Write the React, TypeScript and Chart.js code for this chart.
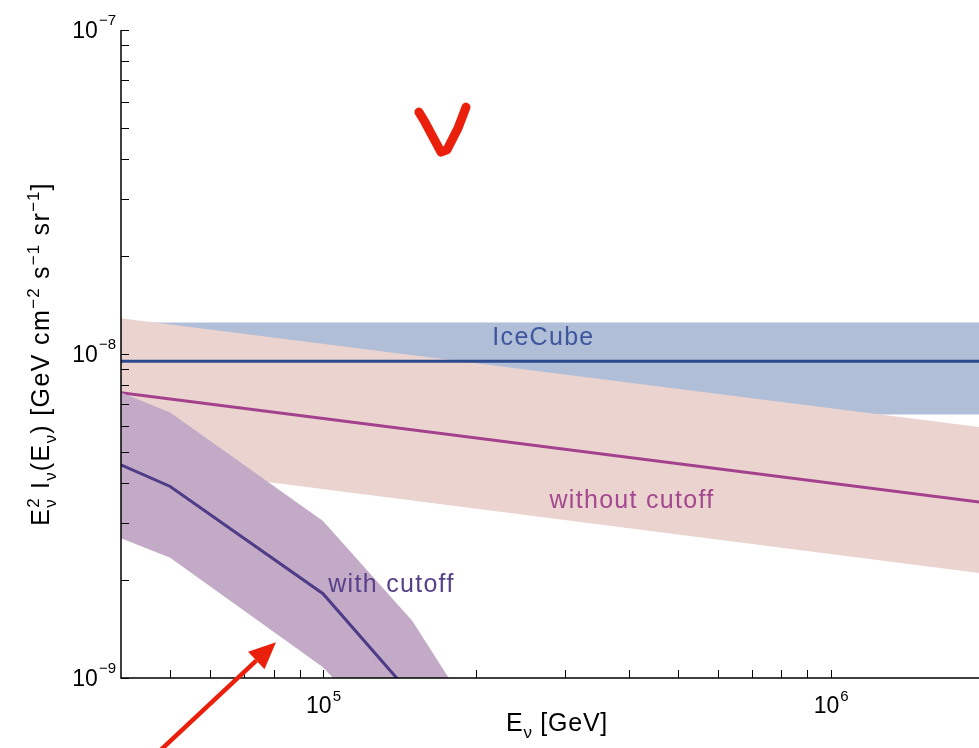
import React, { useEffect, useRef } from 'react';
import { Chart, registerables } from 'chart.js';

Chart.register(...registerables);

// ---------- axis ranges ----------
const xMin = 4e4;
const xMax = 1.96e6;
const yMin = 1e-9;
const yMax = 1e-7;

// ---------- IceCube band ----------
const iceCubeE = [4e4, 2e6];
const iceCubeFlux = [9.5e-9, 9.5e-9];
const iceCubeUpper = [1.25e-8, 1.25e-8];
const iceCubeLower = [6.5e-9, 6.5e-9];

// ---------- without cutoff ----------
const noCutE = [4e4, 2e6];
const noCutFlux = [7.6e-9, 3.48e-9];
const noCutUpper = [1.29e-8, 5.93e-9];
const noCutLower = [4.6e-9, 2.1e-9];

// ---------- with cutoff ----------
const cutE = [4e4, 5e4, 1e5, 1.5e5, 2e5];
const cutFlux = [4.55e-9, 3.9e-9, 1.82e-9, 8.8e-10, 5.2e-10];
const cutUpper = [7.6e-9, 6.6e-9, 3.05e-9, 1.5e-9, 7.4e-10];
const cutLower = [2.7e-9, 2.35e-9, 1.08e-9, 5.4e-10, 3e-10];

// ---------- ticks ----------
const xMajorTicks = [1e5, 1e6];
const xMajorExp = ['5', '6'];
const xMinorTicks = [5e4, 6e4, 7e4, 8e4, 9e4, 2e5, 3e5, 4e5, 5e5, 6e5, 7e5, 8e5, 9e5];
const yMajorTicks = [1e-9, 1e-8, 1e-7];
const yMajorExp = ['\u22129', '\u22128', '\u22127'];
const yMinorTicks = [2e-9, 3e-9, 4e-9, 5e-9, 6e-9, 7e-9, 8e-9, 9e-9, 2e-8, 3e-8, 4e-8, 5e-8, 6e-8, 7e-8, 8e-8, 9e-8];

// ---------- in-plot labels (data coordinates) ----------
const labelTexts = ['IceCube', 'without cutoff', 'with cutoff'];
const labelE = [2.71e5, 4.05e5, 1.36e5];
const labelFlux = [1.12e-8, 3.52e-9, 1.94e-9];
const labelColors = ['#3d569e', '#a4488f', '#56418a'];

// ---------- hand-drawn annotations (data coordinates) ----------
const checkE = [1.545e5, 1.588e5, 1.708e5, 1.755e5, 1.845e5, 1.913e5];
const checkFlux = [5.58e-8, 5.2e-8, 4.2e-8, 4.27e-8, 4.98e-8, 5.78e-8];
const arrowE = [4.56e4, 8.08e4];
const arrowFlux = [5.58e-10, 1.29e-9];

const FONT = '"Liberation Sans", Arial, Helvetica, sans-serif';
const BLUE_FILL = '#b1bed7';
const PINK_FILL = '#ebd3cf';
const PURPLE_FILL = '#c3aac7';
const BLUE_LINE = '#2e4a8e';
const PINK_LINE = '#a3418d';
const PURPLE_LINE = '#4f3c87';
const RED = '#ea200d';

type Seg = { t?: string; sup?: string; sub?: string };

const yTitle: Seg[] = [
  { t: 'E' }, { sup: '2', sub: '\u03bd' }, { t: ' I' }, { sub: '\u03bd' }, { t: '(E' }, { sub: '\u03bd' },
  { t: ') [GeV cm' }, { sup: '\u22122' }, { t: ' s' }, { sup: '\u22121' }, { t: ' sr' }, { sup: '\u22121' }, { t: ']' },
];
const xTitle: Seg[] = [{ t: 'E' }, { sub: '\u03bd' }, { t: ' [GeV]' }];

function drawSegs(ctx: any, segs: Seg[], x: number, y: number, main: number, script: number, spacing: number, draw: boolean) {
  let cx = x;
  for (const s of segs) {
    if (s.t !== undefined) {
      ctx.font = `${main}px ${FONT}`;
      ctx.letterSpacing = `${spacing}px`;
      if (draw) ctx.fillText(s.t, cx, y);
      cx += ctx.measureText(s.t).width;
    } else {
      ctx.font = `${script}px ${FONT}`;
      ctx.letterSpacing = `${spacing * 0.7}px`;
      let w = 0;
      if (s.sup) {
        if (draw) ctx.fillText(s.sup, cx, y - main * 0.42);
        w = Math.max(w, ctx.measureText(s.sup).width);
      }
      if (s.sub) {
        if (draw) ctx.fillText(s.sub, cx, y + main * 0.28);
        w = Math.max(w, ctx.measureText(s.sub).width);
      }
      cx += w;
    }
  }
  ctx.letterSpacing = '0px';
  return cx - x;
}

const overlayPlugin = {
  id: 'overlay',
  afterDatasetsDraw(chart: any) {
    const ctx = chart.ctx;
    const xs = chart.scales.x;
    const ys = chart.scales.y;
    ctx.save();
    ctx.textBaseline = 'middle';
    ctx.textAlign = 'left';
    ctx.font = `25px ${FONT}`;
    ctx.letterSpacing = '1.3px';
    labelTexts.forEach((txt, i) => {
      ctx.fillStyle = labelColors[i];
      const w = ctx.measureText(txt).width - 1.3;
      ctx.fillText(txt, xs.getPixelForValue(labelE[i]) - w / 2, ys.getPixelForValue(labelFlux[i]));
    });
    ctx.restore();
  },
  afterDraw(chart: any) {
    const ctx = chart.ctx;
    const xs = chart.scales.x;
    const ys = chart.scales.y;
    const { left, right, top, bottom } = chart.chartArea;
    ctx.save();
    // axes lines
    ctx.strokeStyle = '#000';
    ctx.lineWidth = 1.5;
    ctx.beginPath();
    ctx.moveTo(left, top);
    ctx.lineTo(left, bottom);
    ctx.lineTo(right, bottom);
    ctx.stroke();
    // ticks (inward)
    ctx.lineWidth = 1;
    ctx.beginPath();
    [...xMajorTicks, ...xMinorTicks].forEach((v) => {
      const px = Math.round(xs.getPixelForValue(v)) + 0.5;
      ctx.moveTo(px, bottom);
      ctx.lineTo(px, bottom - 8);
    });
    [...yMajorTicks, ...yMinorTicks].forEach((v) => {
      const py = Math.round(ys.getPixelForValue(v)) + 0.5;
      ctx.moveTo(left, py);
      ctx.lineTo(left + 8, py);
    });
    ctx.stroke();

    // tick labels
    ctx.fillStyle = '#000';
    ctx.textBaseline = 'alphabetic';
    ctx.textAlign = 'left';
    xMajorTicks.forEach((v, i) => {
      const px = xs.getPixelForValue(v);
      ctx.font = `23px ${FONT}`;
      const w1 = ctx.measureText('10').width;
      ctx.font = `15px ${FONT}`;
      const w2 = ctx.measureText(xMajorExp[i]).width;
      const x0 = px - (w1 + w2) / 2;
      ctx.font = `23px ${FONT}`;
      ctx.fillText('10', x0, bottom + 35);
      ctx.font = `15px ${FONT}`;
      ctx.fillText(xMajorExp[i], x0 + w1 + 1, bottom + 23);
    });
    yMajorTicks.forEach((v, i) => {
      const py = ys.getPixelForValue(v);
      ctx.font = `23px ${FONT}`;
      const w1 = ctx.measureText('10').width;
      ctx.font = `15px ${FONT}`;
      const w2 = ctx.measureText(yMajorExp[i]).width;
      const x0 = left - 5 - w2 - w1 - 1;
      ctx.font = `23px ${FONT}`;
      ctx.fillText('10', x0, py + 8);
      ctx.font = `15px ${FONT}`;
      ctx.fillText(yMajorExp[i], x0 + w1 + 1, py - 5);
    });

    // x title
    const wX = drawSegs(ctx, xTitle, 0, 0, 25, 17, 0.8, false);
    drawSegs(ctx, xTitle, 557 - wX / 2, bottom + 53, 25, 17, 0.8, true);

    // y title
    ctx.save();
    ctx.translate(49, (top + bottom) / 2);
    ctx.rotate(-Math.PI / 2);
    const wY = drawSegs(ctx, yTitle, 0, 0, 25, 17, 1.4, false);
    drawSegs(ctx, yTitle, -wY / 2, 0, 25, 17, 1.4, true);
    ctx.restore();

    // red check mark
    ctx.strokeStyle = RED;
    ctx.lineCap = 'round';
    ctx.lineJoin = 'round';
    ctx.lineWidth = 9;
    ctx.beginPath();
    checkE.forEach((e, i) => {
      const px = xs.getPixelForValue(e);
      const py = ys.getPixelForValue(checkFlux[i]);
      if (i === 0) ctx.moveTo(px, py);
      else ctx.lineTo(px, py);
    });
    ctx.stroke();

    // red arrow
    const ax0 = xs.getPixelForValue(arrowE[0]);
    const ay0 = ys.getPixelForValue(arrowFlux[0]);
    const ax1 = xs.getPixelForValue(arrowE[1]);
    const ay1 = ys.getPixelForValue(arrowFlux[1]);
    const ang = Math.atan2(ay1 - ay0, ax1 - ax0);
    const headLen = 27;
    const headW = 12;
    const bx = ax1 - headLen * Math.cos(ang);
    const by = ay1 - headLen * Math.sin(ang);
    ctx.lineWidth = 4.5;
    ctx.lineCap = 'butt';
    ctx.beginPath();
    ctx.moveTo(ax0, ay0);
    ctx.lineTo(bx, by);
    ctx.stroke();
    ctx.fillStyle = RED;
    ctx.beginPath();
    ctx.moveTo(ax1, ay1);
    ctx.lineTo(bx + headW * Math.sin(ang), by - headW * Math.cos(ang));
    ctx.lineTo(bx - headW * Math.sin(ang), by + headW * Math.cos(ang));
    ctx.closePath();
    ctx.fill();
    ctx.restore();
  },
};

const pts = (xs: number[], ys: number[]) => xs.map((x, i) => ({ x, y: ys[i] }));

export default function App() {
  const ref = useRef<HTMLCanvasElement>(null);
  useEffect(() => {
    document.body.style.margin = '0';
    const canvas = ref.current;
    if (!canvas) return;
    const none = 'rgba(0,0,0,0)';
    const base = { pointRadius: 0, tension: 0, clip: 0 };
    const chart = new Chart(canvas, {
      type: 'line',
      data: {
        datasets: [
          { ...base, label: 'IceCube upper', data: pts(iceCubeE, iceCubeUpper), borderWidth: 0, borderColor: none, backgroundColor: BLUE_FILL, fill: 1, order: 6 },
          { ...base, label: 'IceCube lower', data: pts(iceCubeE, iceCubeLower), borderWidth: 0, borderColor: none, fill: false, order: 6 },
          { ...base, label: 'without cutoff upper', data: pts(noCutE, noCutUpper), borderWidth: 0, borderColor: none, backgroundColor: PINK_FILL, fill: 3, order: 5 },
          { ...base, label: 'without cutoff lower', data: pts(noCutE, noCutLower), borderWidth: 0, borderColor: none, fill: false, order: 5 },
          { ...base, label: 'IceCube', data: pts(iceCubeE, iceCubeFlux), borderWidth: 3, borderColor: BLUE_LINE, fill: false, order: 4 },
          { ...base, label: 'without cutoff', data: pts(noCutE, noCutFlux), borderWidth: 3, borderColor: PINK_LINE, fill: false, order: 3 },
          { ...base, label: 'with cutoff upper', data: pts(cutE, cutUpper), borderWidth: 0, borderColor: none, backgroundColor: PURPLE_FILL, fill: 7, order: 2 },
          { ...base, label: 'with cutoff lower', data: pts(cutE, cutLower), borderWidth: 0, borderColor: none, fill: false, order: 2 },
          { ...base, label: 'with cutoff', data: pts(cutE, cutFlux), borderWidth: 3, borderColor: PURPLE_LINE, fill: false, order: 1 },
        ],
      },
      options: {
        responsive: false,
        animation: false,
        events: [],
        layout: { padding: { left: 121, right: 0, top: 30, bottom: 70 } },
        plugins: { legend: { display: false }, tooltip: { enabled: false }, title: { display: false } },
        scales: {
          x: { type: 'logarithmic', min: xMin, max: xMax, display: false },
          y: { type: 'logarithmic', min: yMin, max: yMax, display: false },
        },
      },
      plugins: [overlayPlugin],
    } as any);
    return () => chart.destroy();
  }, []);
  return (
    <div style={{ width: 979, height: 748, background: '#fff' }}>
      <canvas ref={ref} width={979} height={748} style={{ display: 'block' }} />
    </div>
  );
}
